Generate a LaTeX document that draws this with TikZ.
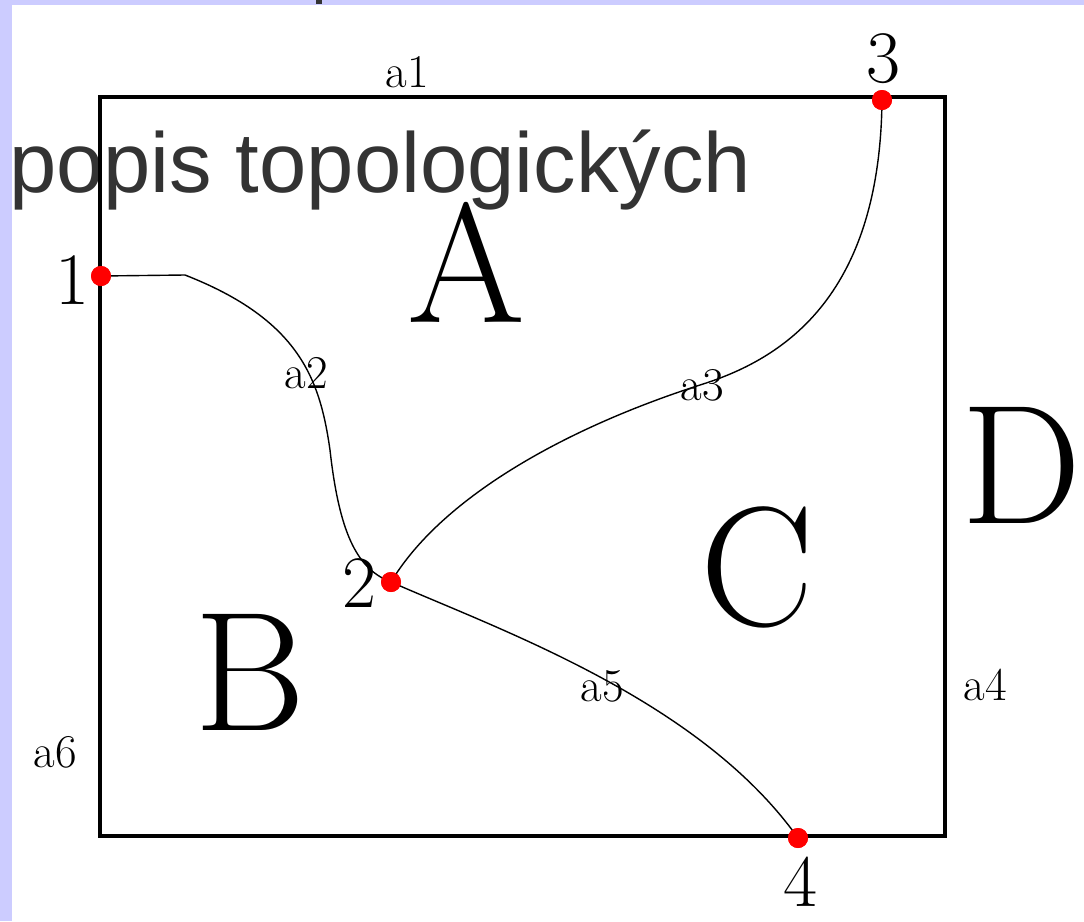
\documentclass[tikz,border=0pt]{standalone}
\usepackage{fontspec}
\newfontfamily\titlefont{Liberation Sans}
\definecolor{lav}{HTML}{CCCCFF}
\definecolor{ttl}{HTML}{333333}
\tikzset{
  pt/.style={circle,fill=red,inner sep=0pt,minimum size=20pt},
  edgecurve/.style={line width=1.4pt,black},
  region/.style={inner sep=0pt,font=\fontsize{170}{170}\selectfont},
  vlab/.style={inner sep=0pt,font=\fontsize{74}{74}\selectfont},
  elab/.style={inner sep=0pt,font=\fontsize{47}{47}\selectfont},
}
\begin{document}
\begin{tikzpicture}[x=1pt,y=-1pt]
\useasboundingbox (0,0) rectangle (1084,921);
\fill[lav] (0,0) rectangle (1084,921);
\fill[white] (12,5) rectangle (1084,921);
\fill[ttl] (316,0) rectangle (322,4);
% title
\node[anchor=base west,inner sep=0pt,text=ttl,font=\titlefont\fontsize{85}{85}\selectfont] (title) at (9,192) {popis topologických};
% frame
\draw[line width=4pt] (100,97) rectangle (945,836);
% points
\node[pt] (n1) at (101,276) {};
\node[pt] (n2) at (391,582) {};
\node[pt] (n3) at (882,100) {};
\node[pt] (n4) at (798,838) {};
\coordinate (k1) at (185,275);
\coordinate (m2) at (330,450);
\coordinate (m3) at (700,385);
% edges
\draw[edgecurve] (n1.center) -- (k1) .. controls (300,320) and (320,380) .. (m2) .. controls (340,540) and (360,570) .. (n2.center);
\draw[edgecurve] (n2.center) .. controls (440,500) and (560,430) .. (m3) .. controls (780,360) and (880,300) .. (n3.center);
\draw[edgecurve] (n2.center) .. controls (500,630) and (700,700) .. (n4.center);
\node[pt] at (n1) {};
\node[pt] at (n2) {};
\node[pt] at (n3) {};
\node[pt] at (n4) {};
% vertex labels
\node[vlab] (l1) at (72,280) {1};
\node[vlab] (l2) at (359,583) {2};
\node[vlab] (l3) at (883,59) {3};
\node[vlab] (l4) at (800,882) {4};
% edge labels
\node[elab] (a1) at (407,72) {a1};
\node[elab] (a2) at (306,373) {a2};
\node[elab] (a3) at (702,385) {a3};
\node[elab] (a4) at (985,685) {a4};
\node[elab] (a5) at (602,686) {a5};
\node[elab] (a6) at (55,752) {a6};
% regions
\node[region] (A) at (466,262) {A};
\node[region] (B) at (250,672) {B};
\node[region] (C) at (757,567) {C};
\node[region] (D) at (1022,465) {D};
\end{tikzpicture}
\end{document}
